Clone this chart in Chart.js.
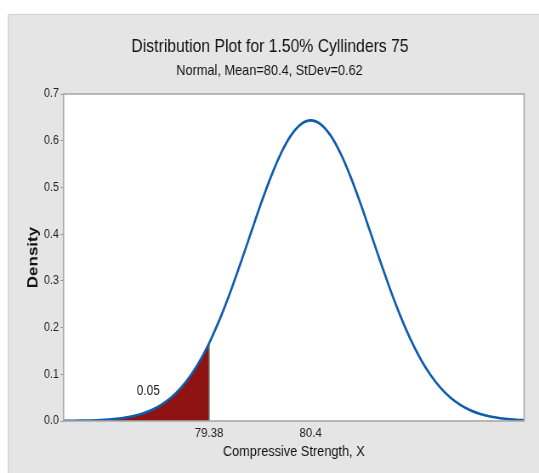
<!DOCTYPE html>
<html>
<head>
<meta charset="utf-8">
<script src="https://cdn.jsdelivr.net/npm/chart.js@4.4.0/dist/chart.umd.min.js"></script>
<style>
  html, body { margin: 0; padding: 0; background: #ffffff; overflow: hidden; }
  #c { display: block; width: 634px; height: 473px; transform: scaleX(0.8502); transform-origin: 0 0; }
</style>
</head>
<body>
<canvas id="c" width="634" height="473"></canvas>
<script>
// ---- Data ----
const titleText = "Distribution Plot for 1.50% Cyllinders 75";
const subtitleText = "Normal, Mean=80.4, StDev=0.62";
const xAxisTitle = "Compressive Strength, X";
const yAxisTitle = "Density";

const xValues = [77.92, 78.0, 78.1, 78.2, 78.3, 78.4, 78.5, 78.6, 78.7, 78.8, 78.9, 79.0, 79.1, 79.2, 79.3, 79.38,
  79.4, 79.5, 79.6, 79.7, 79.8, 79.9, 80.0, 80.1, 80.2, 80.3, 80.4, 80.5, 80.6, 80.7, 80.8, 80.9, 81.0,
  81.1, 81.2, 81.3, 81.4, 81.5, 81.6, 81.7, 81.8, 81.9, 82.0, 82.1, 82.2, 82.3, 82.4, 82.5, 82.54];
const densityValues = [0.0002, 0.0004, 0.0007, 0.0012, 0.0021, 0.0035, 0.0059, 0.0095, 0.0150, 0.0230, 0.0345, 0.0503, 0.0714, 0.0989, 0.1334, 0.1663,
  0.1752, 0.2244, 0.2799, 0.3402, 0.4028, 0.4648, 0.5225, 0.5723, 0.6108, 0.6351, 0.6435, 0.6351, 0.6108, 0.5723, 0.5225, 0.4648, 0.4028,
  0.3402, 0.2799, 0.2244, 0.1752, 0.1334, 0.0989, 0.0714, 0.0503, 0.0345, 0.0230, 0.0150, 0.0095, 0.0059, 0.0035, 0.0021, 0.0017];

const cutoff = 79.38;          // shaded tail upper bound
const tailArea = "0.05";       // label of shaded area
const tailLabelPos = [78.77, 0.064];
const xTickValues = [79.38, 80.4];
const yTickValues = [0.0, 0.1, 0.2, 0.3, 0.4, 0.5, 0.6, 0.7];
const xMin = 77.92, xMax = 82.54;

// ---- Build datasets ----
const curvePts = xValues.map((x, i) => ({ x: x, y: densityValues[i] }));
const tailPts = curvePts.filter(p => p.x <= cutoff);
const edgePts = [{ x: cutoff, y: 0 }, { x: cutoff, y: densityValues[xValues.indexOf(cutoff)] }];

const FONT = "'Liberation Sans', Arial, sans-serif";

const decor = {
  id: 'decor',
  beforeDraw(chart) {
    const ctx = chart.ctx;
    const a = chart.chartArea;
    ctx.save();
    ctx.fillStyle = '#ffffff';
    ctx.fillRect(0, 0, chart.width, chart.height);
    ctx.fillStyle = '#e5e5e5';
    ctx.fillRect(9.4, 14, chart.width - 9.4, chart.height - 14);
    ctx.strokeStyle = '#d0d0d0';
    ctx.lineWidth = 1.2;
    ctx.beginPath();
    ctx.moveTo(9.9, chart.height);
    ctx.lineTo(9.9, 14.5);
    ctx.lineTo(chart.width, 14.5);
    ctx.stroke();
    ctx.fillStyle = '#ffffff';
    ctx.fillRect(a.left, a.top, a.right - a.left, a.bottom - a.top);
    ctx.restore();
  },
  afterDraw(chart) {
    const ctx = chart.ctx;
    const a = chart.chartArea;
    const xs = chart.scales.x, ys = chart.scales.y;
    ctx.save();
    ctx.strokeStyle = '#a8a8a8';
    ctx.lineWidth = 1.6;
    ctx.strokeRect(a.left, a.top, a.right - a.left, a.bottom - a.top);
    ctx.fillStyle = '#111111';
    ctx.textAlign = 'center';
    ctx.textBaseline = 'alphabetic';
    ctx.font = '18.5px ' + FONT;
    ctx.fillText(titleText, 317.6, 52);
    ctx.font = '15px ' + FONT;
    ctx.fillText(subtitleText, 317, 74.5);
    ctx.font = '14px ' + FONT;
    ctx.fillStyle = '#222222';
    ctx.textBaseline = 'middle';
    ctx.fillText(tailArea, xs.getPixelForValue(tailLabelPos[0]), ys.getPixelForValue(tailLabelPos[1]));
    ctx.restore();
  }
};

new Chart(document.getElementById('c'), {
  type: 'scatter',
  data: {
    datasets: [
      {
        data: tailPts, showLine: true, fill: 'origin',
        backgroundColor: '#8e1313', borderWidth: 0, pointRadius: 0, tension: 0, order: 3
      },
      {
        data: edgePts, showLine: true, fill: false,
        borderColor: '#6e6e6e', borderWidth: 1.6, pointRadius: 0, order: 2
      },
      {
        data: curvePts, showLine: true, fill: false,
        borderColor: '#0d5cad', borderWidth: 2.6, pointRadius: 0,
        cubicInterpolationMode: 'monotone', order: 1
      }
    ]
  },
  options: {
    responsive: false,
    animation: false,
    events: [],
    layout: { padding: { top: 94, right: 17.6, left: 0, bottom: 0 } },
    plugins: { legend: { display: false }, tooltip: { enabled: false }, title: { display: false } },
    scales: {
      x: {
        type: 'linear', min: xMin, max: xMax,
        afterBuildTicks: s => { s.ticks = xTickValues.map(v => ({ value: v })); },
        afterFit: s => { s.height = 52; },
        grid: { display: false, drawTicks: false },
        border: { display: false },
        ticks: {
          padding: 4, color: '#222', font: { family: FONT, size: 13.5 },
          callback: v => String(v), maxRotation: 0, autoSkip: false
        },
        title: {
          display: true, text: xAxisTitle, color: '#111',
          font: { family: FONT, size: 15 }, padding: { top: 0, bottom: 12 }
        }
      },
      y: {
        min: 0, max: 0.7,
        afterBuildTicks: s => { s.ticks = yTickValues.map(v => ({ value: v })); },
        afterFit: s => { s.width = 74.7; },
        grid: { drawOnChartArea: false, drawTicks: true, tickLength: 3.5, color: '#9a9a9a' },
        border: { display: false },
        ticks: {
          padding: 2, color: '#222', font: { family: FONT, size: 12.5 },
          callback: v => v.toFixed(1)
        },
        title: {
          display: true, text: yAxisTitle, color: '#111',
          font: { family: FONT, size: 17, weight: 'bold' },
          padding: { top: 29.5, bottom: 0 }
        }
      }
    }
  },
  plugins: [decor]
});
</script>
</body>
</html>
